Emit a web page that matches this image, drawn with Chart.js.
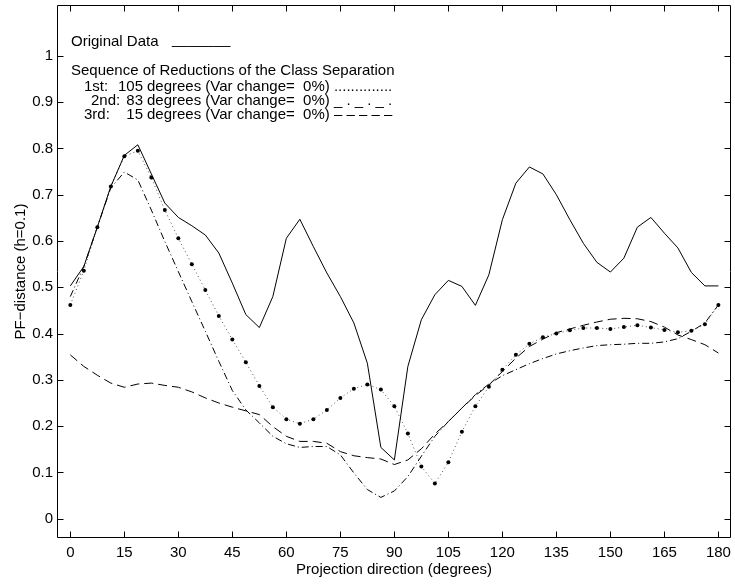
<!DOCTYPE html>
<html>
<head>
<meta charset="utf-8">
<script src="https://cdn.jsdelivr.net/npm/chart.js@4.4.1/dist/chart.umd.min.js"></script>
<style>
  html, body { margin: 0; padding: 0; background: #fff; }
  #wrap { width: 735px; height: 584px; }
</style>
</head>
<body>
<div id="wrap"><canvas id="pfChart" width="735" height="584"></canvas></div>
<script>
// projection directions (degrees)
const angles = [0, 3.75, 7.5, 11.25, 15, 18.75, 22.5, 26.25, 30, 33.75, 37.5, 41.25, 45, 48.75, 52.5, 56.25,
  60, 63.75, 67.5, 71.25, 75, 78.75, 82.5, 86.25, 90, 93.75, 97.5, 101.25, 105, 108.75, 112.5, 116.25,
  120, 123.75, 127.5, 131.25, 135, 138.75, 142.5, 146.25, 150, 153.75, 157.5, 161.25, 165, 168.75, 172.5, 176.25, 180];

// PF-distance values
const original = [0.503, 0.545, 0.630, 0.718, 0.785, 0.808, 0.745, 0.682, 0.651, 0.633, 0.613, 0.574, 0.509, 0.441, 0.413, 0.480,
  0.606, 0.647, 0.588, 0.531, 0.480, 0.423, 0.336, 0.154, 0.127, 0.329, 0.430, 0.484, 0.515, 0.502, 0.461, 0.527,
  0.646, 0.725, 0.760, 0.745, 0.700, 0.646, 0.595, 0.554, 0.533, 0.563, 0.630, 0.651, 0.617, 0.585, 0.532, 0.503, 0.503];
const firstRed = [0.462, 0.536, 0.630, 0.718, 0.783, 0.795, 0.737, 0.667, 0.606, 0.550, 0.494, 0.438, 0.387, 0.338, 0.287, 0.241,
  0.215, 0.205, 0.215, 0.235, 0.261, 0.281, 0.290, 0.279, 0.243, 0.184, 0.113, 0.076, 0.122, 0.188, 0.243, 0.285,
  0.322, 0.354, 0.378, 0.392, 0.400, 0.407, 0.412, 0.412, 0.410, 0.414, 0.418, 0.413, 0.408, 0.403, 0.406, 0.420, 0.462];
const secondRed = [0.480, 0.545, 0.630, 0.715, 0.749, 0.732, 0.667, 0.599, 0.534, 0.469, 0.405, 0.340, 0.277, 0.235, 0.207, 0.178,
  0.162, 0.154, 0.156, 0.156, 0.138, 0.099, 0.063, 0.046, 0.060, 0.091, 0.135, 0.178, 0.210, 0.239, 0.268, 0.291,
  0.309, 0.322, 0.335, 0.346, 0.356, 0.363, 0.369, 0.374, 0.376, 0.377, 0.379, 0.379, 0.382, 0.389, 0.405, 0.423, 0.462];
const thirdRed = [0.354, 0.329, 0.310, 0.293, 0.284, 0.291, 0.293, 0.288, 0.284, 0.274, 0.261, 0.250, 0.241, 0.233, 0.225, 0.199,
  0.178, 0.167, 0.167, 0.163, 0.145, 0.136, 0.132, 0.129, 0.117, 0.127, 0.151, 0.183, 0.210, 0.239, 0.266, 0.289,
  0.318, 0.347, 0.372, 0.388, 0.402, 0.410, 0.418, 0.425, 0.431, 0.433, 0.432, 0.426, 0.414, 0.397, 0.387, 0.376, 0.358];

// tick labels
const xTicks = [0, 15, 30, 45, 60, 75, 90, 105, 120, 135, 150, 165, 180];
const yTicks = [0, 0.1, 0.2, 0.3, 0.4, 0.5, 0.6, 0.7, 0.8, 0.9, 1];
const yTickLabels = ['0', '0.1', '0.2', '0.3', '0.4', '0.5', '0.6', '0.7', '0.8', '0.9', '1'];

// text legend (drawn inside the axes like the original)
const legendHead = 'Sequence of Reductions of the Class Separation';
const legendRows = [
  { tag: '1st:', deg: '105', sample: '..............' },
  { tag: '2nd:', deg: '83', sample: '_ . _ . _ .' },
  { tag: '3rd:', deg: '15', sample: '\u2013 \u2013 \u2013 \u2013 \u2013' }
];

Chart.defaults.font.family = '"Liberation Sans", Arial, Helvetica, sans-serif';
Chart.defaults.font.size = 15;
Chart.defaults.color = '#000';

const toPoints = vals => angles.map((a, i) => ({ x: a, y: vals[i] }));

// box, inward ticks and the text legend
const frameAndLegend = {
  id: 'frameAndLegend',
  afterDraw(chart) {
    const { ctx, chartArea: a, scales: { x, y } } = chart;
    const L = Math.round(a.left) + 0.5, R = Math.round(a.right) - 0.5;
    const T = Math.round(a.top) + 0.5, B = Math.round(a.bottom) - 0.5;
    ctx.save();
    ctx.strokeStyle = '#000';
    ctx.lineWidth = 1;
    ctx.beginPath();
    ctx.rect(L, T, R - L, B - T);
    xTicks.forEach(v => {
      const px = Math.round(x.getPixelForValue(v)) + 0.5;
      ctx.moveTo(px, B); ctx.lineTo(px, B - 6);
      ctx.moveTo(px, T); ctx.lineTo(px, T + 6);
    });
    yTicks.forEach(v => {
      const py = Math.round(y.getPixelForValue(v)) + 0.5;
      ctx.moveTo(L, py); ctx.lineTo(L + 6, py);
      ctx.moveTo(R, py); ctx.lineTo(R - 6, py);
    });
    ctx.stroke();

    ctx.fillStyle = '#000';
    ctx.font = '15px "Liberation Sans", Arial, sans-serif';
    ctx.textBaseline = 'middle';
    ctx.textAlign = 'left';
    ctx.fillText('Original Data', 71, 42);
    ctx.fillText('_______', 172, 40);
    ctx.fillText(legendHead, 71, 71);
    const rowY = [87, 101, 115];
    const tagX = [84, 91, 84];
    legendRows.forEach((r, i) => {
      ctx.textAlign = 'left';
      ctx.fillText(r.tag, tagX[i], rowY[i]);
      ctx.textAlign = 'right';
      ctx.fillText(r.deg, 143, rowY[i]);
      ctx.textAlign = 'left';
      ctx.fillText('degrees (Var change=  0%) ' + r.sample, 147, rowY[i]);
    });
    ctx.restore();
  }
};

const ctx = document.getElementById('pfChart').getContext('2d');
const pfChart = new Chart(ctx, {
  type: 'line',
  data: {
    datasets: [
      {
        label: 'Original Data',
        data: toPoints(original),
        borderColor: '#000',
        borderWidth: 1,
        pointRadius: 0,
        tension: 0
      },
      {
        label: '1st: 105 degrees',
        data: toPoints(firstRed),
        borderColor: '#555',
        borderWidth: 1,
        borderDash: [1, 3],
        pointRadius: 2,
        pointBorderWidth: 0,
        pointBackgroundColor: '#000',
        tension: 0
      },
      {
        label: '2nd: 83 degrees',
        data: toPoints(secondRed),
        borderColor: '#000',
        borderWidth: 1,
        borderDash: [7, 3, 1, 3],
        pointRadius: 0,
        tension: 0
      },
      {
        label: '3rd: 15 degrees',
        data: toPoints(thirdRed),
        borderColor: '#000',
        borderWidth: 1,
        borderDash: [9, 5],
        pointRadius: 0,
        tension: 0
      }
    ]
  },
  options: {
    responsive: false,
    animation: false,
    layout: { padding: { top: 5, right: 2, left: 0, bottom: 0 } },
    plugins: {
      legend: { display: false },
      tooltip: { enabled: false }
    },
    scales: {
      x: {
        type: 'linear',
        min: -3.7,
        max: 183.5,
        grid: { display: false, drawTicks: false },
        border: { display: false },
        afterBuildTicks: s => { s.ticks = xTicks.map(v => ({ value: v })); },
        afterFit: s => { s.height = 46; s.paddingLeft = 0; s.paddingRight = 0; },
        ticks: { autoSkip: false, maxRotation: 0, padding: 6 },
        title: { display: true, text: 'Projection direction (degrees)', padding: { top: 5, bottom: 5 } }
      },
      y: {
        type: 'linear',
        min: -0.0417,
        max: 1.11,
        grid: { display: false, drawTicks: false },
        border: { display: false },
        afterBuildTicks: s => { s.ticks = yTicks.map(v => ({ value: v })); },
        afterFit: s => { s.width = 57; s.paddingTop = 0; s.paddingBottom = 0; },
        ticks: { autoSkip: false, padding: 4, callback: (v, i) => yTickLabels[i] },
        title: { display: true, text: 'PF\u2212distance (h=0.1)', padding: { top: 12, bottom: 0 } }
      }
    }
  },
  plugins: [frameAndLegend]
});
</script>
</body>
</html>
